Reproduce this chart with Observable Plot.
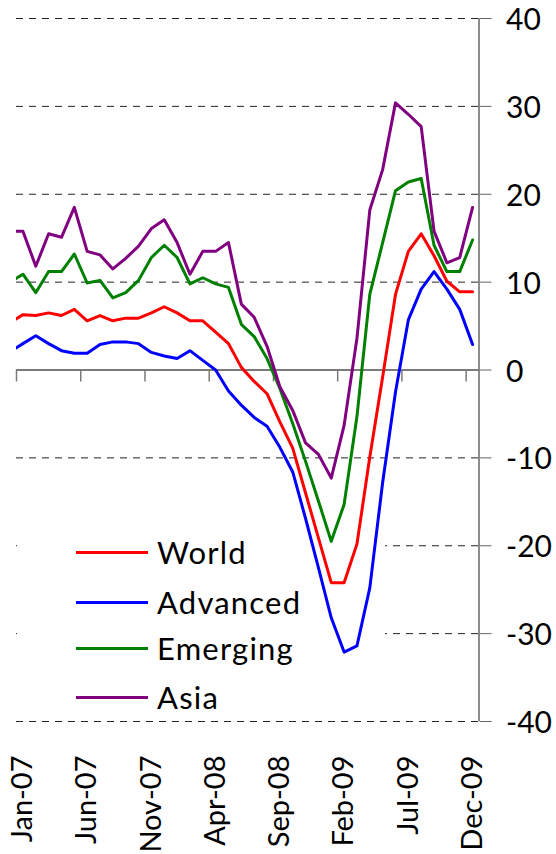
<!DOCTYPE html>
<html>
<head>
<meta charset="utf-8">
<script src="https://cdn.jsdelivr.net/npm/d3@7"></script>
<script src="https://cdn.jsdelivr.net/npm/@observablehq/plot@0.6"></script>
<style>
  html, body { margin: 0; padding: 0; background: #fff; }
  #wrap { position: relative; width: 556px; height: 854px; font-family: Lato, "Open Sans", sans-serif; }
  #wrap > svg { position: absolute; left: 0; top: 0; overflow: visible; }
  #legend { position: absolute; left: 17px; top: 526px; width: 368px; height: 192px; background: #fff; }
  .row { position: absolute; left: 0; height: 48px; display: flex; align-items: center; }
  .swatch { width: 72px; height: 3px; margin-left: 59px; margin-right: 9px; }
  .lab { font-size: 31px; letter-spacing: 1.2px; color: #000; line-height: 1; }
</style>
</head>
<body>
<div id="wrap"></div>
<script>
// Months from Dec-06 (index -1, clipped at the left edge) to Dec-09 (index 35)
const monthIndex = [-1,0,1,2,3,4,5,6,7,8,9,10,11,12,13,14,15,16,17,18,19,20,21,22,23,24,25,26,27,28,29,30,31,32,33,34,35];

const seriesNames = ["World", "Advanced", "Emerging", "Asia"];
const seriesColors = ["#ff0000", "#0000ff", "#008000", "#800080"];

const world = [5.4, 6.3, 6.2, 6.5, 6.2, 6.9, 5.6, 6.2, 5.6, 5.9, 5.9, 6.5, 7.2, 6.5, 5.6, 5.6, 4.3, 3.0, 0.3, -1.3, -2.7, -5.9, -8.9, -14.0, -19.1, -24.2, -24.2, -19.8, -9.9, -0.8, 8.6, 13.5, 15.5, 13.0, 10.1, 8.9, 8.9];
const advanced = [2.1, 3.0, 3.9, 3.0, 2.2, 1.9, 1.9, 2.9, 3.2, 3.2, 3.0, 2.0, 1.6, 1.3, 2.2, 1.1, 0.0, -2.4, -4.0, -5.4, -6.4, -8.8, -11.6, -16.9, -22.5, -28.2, -32.1, -31.4, -24.8, -12.8, -2.5, 5.7, 9.2, 11.2, 9.2, 6.9, 2.9];
const emerging = [10.0, 10.9, 8.8, 11.2, 11.2, 13.2, 9.9, 10.2, 8.2, 8.8, 10.2, 12.8, 14.2, 12.8, 9.8, 10.5, 9.8, 9.4, 5.2, 3.8, 1.3, -2.1, -6.1, -10.4, -14.9, -19.5, -15.3, -5.3, 8.6, 14.5, 20.4, 21.4, 21.8, 14.2, 11.2, 11.2, 14.8];
const asia = [15.8, 15.8, 11.8, 15.5, 15.1, 18.5, 13.5, 13.1, 11.5, 12.7, 14.1, 16.1, 17.1, 14.5, 10.9, 13.5, 13.5, 14.5, 7.5, 6.0, 2.7, -1.9, -4.6, -8.3, -9.6, -12.3, -6.3, 3.6, 18.2, 22.8, 30.4, 29.1, 27.7, 15.8, 12.2, 12.8, 18.5];

const xTickIndex = [0, 5, 10, 15, 20, 25, 30, 35];
const xTickLabels = ["Jan-07", "Jun-07", "Nov-07", "Apr-08", "Sep-08", "Feb-09", "Jul-09", "Dec-09"];
const xTickBounds = [-0.5, 4.5, 9.5, 14.5, 19.5, 24.5, 29.5, 34.5];
const yTicks = [-40, -30, -20, -10, 0, 10, 20, 30, 40];
const gridValues = [40, 30, 20, 10, -10, -20, -30, -40];

const allSeries = [world, advanced, emerging, asia];
const rows = [];
allSeries.forEach((vals, s) => {
  vals.forEach((v, k) => rows.push({series: seriesNames[s], i: monthIndex[k], v}));
});

const labelOf = new Map(xTickIndex.map((d, k) => [d, xTickLabels[k]]));

const frame = {
  width: 556,
  height: 854,
  marginTop: 18,
  marginBottom: 133,
  marginLeft: 16,
  marginRight: 77.5
};
const xDomain = [-0.5, 35.5];
const yDomain = [-40, 40];

// Layer 1: dashed gridlines (under the legend box)
const gridLayer = Plot.plot({
  ...frame,
  x: {type: "linear", domain: xDomain, axis: null},
  y: {domain: yDomain, axis: null},
  style: {background: "#fff"},
  marks: [
    Plot.ruleY(gridValues, {y: d => d, stroke: "#222", strokeWidth: 1, strokeDasharray: "7,6"})
  ]
});

// Layer 3: axes and series lines (above the legend box)
const mainLayer = Plot.plot({
  ...frame,
  x: {type: "linear", domain: xDomain},
  y: {domain: yDomain},
  color: {domain: seriesNames, range: seriesColors},
  style: {fontFamily: "Lato, 'Open Sans', sans-serif", fontSize: "30px", color: "#000", background: "transparent", overflow: "visible"},
  marks: [
    Plot.ruleY([0], {stroke: "#7a7a7a", strokeWidth: 1.8}),
    Plot.ruleX(xTickBounds, {x: d => d, y1: 0, y2: 0, insetBottom: -12, stroke: "#7a7a7a", strokeWidth: 1.5}),
    Plot.lineY(rows, {x: "i", y: "v", z: "series", stroke: "series", strokeWidth: 3, clip: true}),
    Plot.ruleX([35.5], {y1: -40, y2: 40, stroke: "#666", strokeWidth: 1.5}),
    // tick marks of the right axis
    Plot.axisY({anchor: "right", ticks: yTicks, tickSize: 12, tickFormat: () => "", label: null, stroke: "#666"}),
    // tick labels of the right axis (slightly lowered, as in the original)
    Plot.axisY({anchor: "right", ticks: yTicks, tickSize: 0, tickPadding: 27, tickFormat: d => String(d), label: null, fontSize: 30, dy: 2}),
    Plot.axisX({anchor: "bottom", ticks: xTickIndex, tickFormat: d => labelOf.get(d), tickRotate: -90, tickSize: 0, tickPadding: 34, label: null, fontSize: 29})
  ]
});

const wrap = document.getElementById("wrap");
wrap.appendChild(gridLayer);

// Layer 2: legend box inside the plot area
const legend = document.createElement("div");
legend.id = "legend";
const rowCenters = [26.7, 76.3, 122.3, 171.7];
seriesNames.forEach((name, k) => {
  const r = document.createElement("div");
  r.className = "row";
  r.style.top = (rowCenters[k] - 24) + "px";
  const sw = document.createElement("div");
  sw.className = "swatch";
  sw.style.background = seriesColors[k];
  const t = document.createElement("span");
  t.className = "lab";
  t.textContent = name;
  r.appendChild(sw);
  r.appendChild(t);
  legend.appendChild(r);
});
wrap.appendChild(legend);

wrap.appendChild(mainLayer);
</script>
</body>
</html>
